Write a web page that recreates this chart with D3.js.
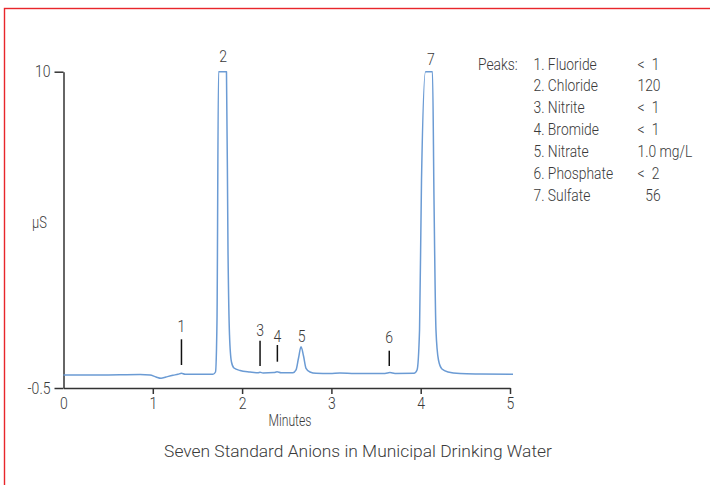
<!DOCTYPE html>
<html>
<head>
<meta charset="utf-8">
<script src="https://cdn.jsdelivr.net/npm/d3@7/dist/d3.min.js"></script>
<style>
  html, body { margin: 0; padding: 0; background: #fff; }
  svg { display: block; }
  text { font-family: Roboto, "Noto Sans", sans-serif; font-weight: 300; fill: #3a3a3a; }
</style>
</head>
<body>
<svg id="chart" width="710" height="485"></svg>
<script>
// ---- Data ----
const retentionTime = [0, 0.409, 0.857, 0.969, 1.036, 1.092, 1.148, 1.226, 1.282, 1.321,
  1.361, 1.529, 1.674, 1.702, 1.719, 1.736, 1.825, 1.842, 1.859, 1.881,
  1.909, 1.977, 2.089, 2.179, 2.201, 2.234, 2.357, 2.391, 2.436, 2.570,
  2.604, 2.632, 2.660, 2.688, 2.716, 2.760, 2.828, 2.984, 3.096, 3.264,
  3.600, 3.656, 3.712, 3.925, 3.959, 3.987, 4.009, 4.054, 4.132, 4.149,
  4.171, 4.199, 4.238, 4.306, 4.440, 4.664, 5.034];
const conductivity = [-0.068, -0.068, -0.052, -0.068, -0.135, -0.178, -0.135, -0.078, -0.045, -0.012,
  -0.045, -0.045, -0.045, 0.031, 1.76, 10, 10, 4.08, 1.26, 0.363,
  0.164, 0.081, 0.031, 0.005, 0.021, 0.001, 0.011, 0.038, 0.005, 0.008,
  0.098, 0.496, 0.871, 0.562, 0.154, 0.031, -0.012, -0.019, 0.001, -0.015,
  -0.015, 0.011, -0.015, -0.012, 0.098, 1.426, 6.406, 10, 10, 5.74,
  1.426, 0.43, 0.131, 0.031, -0.019, -0.035, -0.045];

// Peak annotations (time in min, label / marker heights in µS)
const peakLabels = ["1", "2", "3", "4", "5", "6", "7"];
const peakTimes = [1.321, 1.789, 2.201, 2.395, 2.668, 3.648, 4.115];
const peakLabelValues = [1.369, 10.32, 1.226, 1.037, 1.017, 0.984, 10.21];
const peakMarkerTop = [1.117, null, 1.070, 0.927, null, 0.738, null];
const peakMarkerBottom = [0.264, null, 0.230, 0.373, null, 0.230, null];

// Legend
const analytes = ["1. Fluoride", "2. Chloride", "3. Nitrite", "4. Bromide", "5. Nitrate", "6. Phosphate", "7. Sulfate"];
const amounts = ["<\u20021", "120", "<\u20021", "<\u20021", "1.0 mg/L", "<\u20022", "\u200756"];

// Axes
const xTickValues = [0, 1, 2, 3, 4, 5];
const xTickLabels = ["0", "1", "2", "3", "4", "5"];
const yTickValues = [-0.5, 10];
const yTickLabels = ["-0.5", "10"];

const title = "Seven Standard Anions in Municipal Drinking Water";
const xTitle = "Minutes";
const yTitle = "µS";

// ---- Drawing ----
const svg = d3.select("#chart");
const COND = 0.84;   // horizontal condensing of the light condensed face
const textColor = "#3a3a3a";

// red frame
svg.append("rect")
  .attr("x", 4.5).attr("y", 8.5).attr("width", 800).attr("height", 600)
  .attr("fill", "none").attr("stroke", "#e8262b").attr("stroke-width", 1.4);

const x = d3.scaleLinear().domain([0, 5]).range([63.5, 510]);
const y = d3.scaleLinear().domain([-0.5, 10]).range([388, 71.7]);

function ctext(g, px, py, str, anchor, size, scale) {
  return g.append("text")
    .attr("transform", `translate(${px},${py}) scale(${scale},1)`)
    .attr("text-anchor", anchor)
    .style("font-size", size + "px")
    .style("white-space", "pre")
    .text(str);
}

// axes
const yAxis = d3.axisLeft(y).tickValues(yTickValues)
  .tickFormat((d, i) => yTickLabels[i]).tickSize(9).tickSizeOuter(0).tickPadding(4);
const gy = svg.append("g").attr("transform", `translate(${x(0)},0)`).call(yAxis);

const xAxis = d3.axisBottom(x).tickValues(xTickValues)
  .tickFormat((d, i) => xTickLabels[i]).tickSize(6).tickSizeOuter(0).tickPadding(3);
const gx = svg.append("g").attr("transform", `translate(0,${y(-0.5)})`).call(xAxis);

[gx, gy].forEach(g => {
  g.select(".domain").attr("stroke", "#333").attr("stroke-width", 1.5);
  g.selectAll(".tick line").attr("stroke", "#333").attr("stroke-width", 1.5);
  g.selectAll(".tick text").attr("fill", textColor)
    .style("font-size", "16.5px").style("font-family", "Roboto, sans-serif").style("font-weight", 300);
});
gx.selectAll(".tick").filter(d => d === 0).select("line").remove();
gy.selectAll(".tick text").each(function () {
  const t = d3.select(this);
  const tx = +t.attr("x");
  t.attr("x", 0).attr("transform", `translate(${tx},0) scale(0.85,1)`);
});
gx.selectAll(".tick text").attr("transform", "scale(0.85,1)");

// chromatogram line
const pts = retentionTime.map((t, i) => [t, conductivity[i]]);
svg.append("path")
  .datum(pts)
  .attr("fill", "none")
  .attr("stroke", "#6b9bd4")
  .attr("stroke-width", 1.5)
  .attr("stroke-linejoin", "round")
  .attr("d", d3.line().x(d => x(d[0])).y(d => y(d[1])).curve(d3.curveMonotoneX));

// peak markers & labels
const ann = svg.append("g");
peakLabels.forEach((lab, i) => {
  if (peakMarkerTop[i] !== null) {
    ann.append("line")
      .attr("x1", x(peakTimes[i])).attr("x2", x(peakTimes[i]))
      .attr("y1", y(peakMarkerTop[i])).attr("y2", y(peakMarkerBottom[i]))
      .attr("stroke", "#111").attr("stroke-width", 1.5);
  }
  ctext(ann, x(peakTimes[i]), y(peakLabelValues[i]), lab, "middle", 16.5, 0.85);
});

// axis titles
ctext(svg, 290, 426, xTitle, "middle", 16, 0.76);
ctext(svg, 32, 228, yTitle, "start", 17, 0.76);

// legend
const leg = svg.append("g");
ctext(leg, 478, 69.5, "Peaks:", "start", 16.5, COND);
analytes.forEach((a, i) => {
  const by = 69.5 + i * 21.9;
  ctext(leg, 533.5, by, a, "start", 16.5, COND);
  ctext(leg, 637.5, by, amounts[i], "start", 16.5, COND);
});

// chart title
svg.append("text")
  .attr("x", 358).attr("y", 457)
  .attr("text-anchor", "middle")
  .style("font-size", "17.4px")
  .attr("fill", "#333")
  .text(title);
</script>
</body>
</html>
